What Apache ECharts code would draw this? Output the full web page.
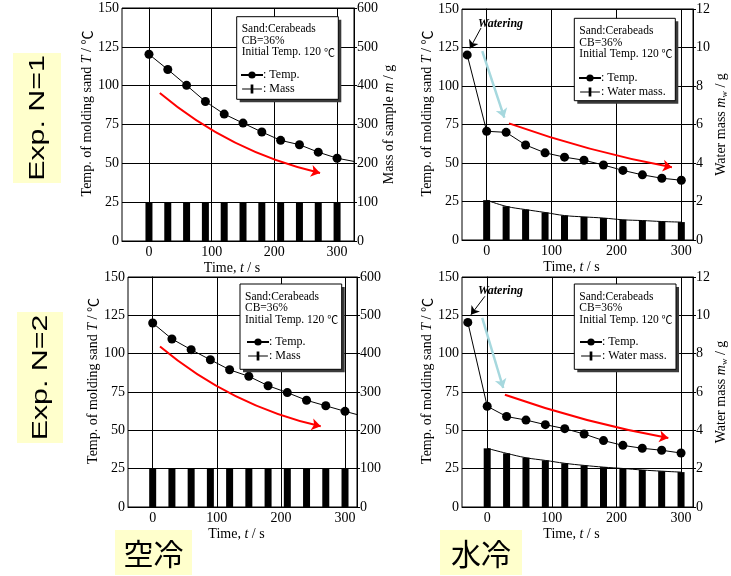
<!DOCTYPE html>
<html><head><meta charset="utf-8">
<script src="https://cdn.jsdelivr.net/npm/echarts@6/dist/echarts.min.js"></script>
<style>html,body{margin:0;padding:0;background:#fff}#c{width:731px;height:576px}</style>
</head><body><div id="c"></div>
<script>
// ---------- data ----------
const xTickValues = [0, 100, 200, 300];
const timeAir = [0, 30, 60, 90, 120, 150, 180, 210, 240, 270, 300, 330];
const tempAirN1 = [120.2, 110.4, 100.2, 89.8, 81.7, 75.9, 70.2, 64.8, 62.0, 57.2, 53.3, 51.0];
const tempAirN2 = [120.0, 109.6, 102.6, 96.0, 89.5, 85.2, 79.1, 74.6, 69.6, 66.0, 62.4, 59.0];
const timeMass = [0, 30, 60, 90, 120, 150, 180, 210, 240, 270, 300];
const massAirN1 = [100, 100, 100, 100, 100, 100, 100, 100, 100, 100, 100];
const massAirN2 = [100, 100, 100, 100, 100, 100, 100, 100, 100, 100, 100];
const timeWater = [-30, 0, 30, 60, 90, 120, 150, 180, 210, 240, 270, 300];
const tempWaterN1 = [120.2, 70.6, 69.9, 61.7, 56.6, 53.8, 51.8, 48.7, 45.2, 42.3, 40.1, 38.8];
const tempWaterN2 = [120.4, 65.7, 59.0, 56.7, 53.7, 51.1, 47.6, 43.3, 40.2, 38.3, 37.0, 35.2];
const waterMassN1 = [2.07, 1.75, 1.58, 1.43, 1.27, 1.20, 1.14, 1.05, 1.01, 0.96, 0.93];
const waterMassN2 = [3.06, 2.80, 2.57, 2.43, 2.28, 2.17, 2.08, 2.01, 1.93, 1.87, 1.82];
// annotation arrows (data coordinates: [time, temperature])
const redArrowAirN1 = [[17.3, 95.3], [272.9, 43.8]];
const redArrowAirN2 = [[11.4, 104.7], [262.1, 52.6]];
const redArrowWaterN1 = [[34.4, 75.7], [285.5, 47.2]];
const redArrowWaterN2 = [[27.4, 73.2], [280.3, 45.0]];
const blueArrowWaterN1 = [[-6.8, 122.7], [27.2, 79.4]];
const blueArrowWaterN2 = [[-7.7, 123.3], [24.8, 77.6]];
const wateringArrowN1 = [[-8.8, 137.6], [-25.8, 124.4]];
const wateringArrowN2 = [[-3.6, 137.4], [-25.2, 125.4]];
const infoText = 'Sand:Cerabeads\nCB=36%\nInitial Temp. 120 {c|\u2103}';

// ---------- layout ----------
const serif = 'Liberation Serif';
const cjk = 'Noto Sans CJK JP';
const panels = [
  { grid: {left: 122, top: 8, width: 232, height: 233}, xr: [-43, 327],
    temp: [timeAir, tempAirN1], tail: true, mass: [timeMass, massAirN1], massName: 'Mass',
    rMax: 600, rInt: 100, rName: 'Mass of sample {i|m} / g', rGap: 27,
    box: {x: 236.7, y: 16.7, w: 101.6, h: 82.6}, leg: {left: 240, top: 69},
    arrows: [{c: redArrowAirN1, color: '#ff0000', w: 2, cv: -0.12}] },
  { grid: {left: 462, top: 9, width: 231, height: 231}, xr: [-38, 318],
    temp: [timeWater, tempWaterN1], tail: false, mass: [timeMass, waterMassN1], massName: 'Water mass.',
    rMax: 12, rInt: 2, rName: 'Water mass {i|m}{s|w} / g', rGap: 14,
    box: {x: 574.3, y: 18.3, w: 101, h: 82.4}, leg: {left: 578, top: 72}, watering: {x: 478, y: 18},
    arrows: [{c: redArrowWaterN1, color: '#ff0000', w: 2, cv: -0.04},
             {c: blueArrowWaterN1, color: '#a6d8de', w: 2.5, cv: 0},
             {c: wateringArrowN1, color: '#000', w: 1, cv: 0}] },
  { grid: {left: 128, top: 277, width: 229, height: 230}, xr: [-38.5, 318.7],
    temp: [timeAir, tempAirN2], tail: true, mass: [timeMass, massAirN2], massName: 'Mass',
    rMax: 600, rInt: 100, rName: '', rGap: 27,
    box: {x: 240, y: 284, w: 101.7, h: 85.3}, leg: {left: 246, top: 336},
    arrows: [{c: redArrowAirN2, color: '#ff0000', w: 2, cv: -0.12}] },
  { grid: {left: 462, top: 277, width: 231, height: 230}, xr: [-39, 318.5],
    temp: [timeWater, tempWaterN2], tail: false, mass: [timeMass, waterMassN2], massName: 'Water mass.',
    rMax: 12, rInt: 2, rName: 'Water mass {i|m}{s|w} / g', rGap: 14,
    box: {x: 574.3, y: 284, w: 101.7, h: 85.3}, leg: {left: 579, top: 336}, watering: {x: 478, y: 285},
    arrows: [{c: redArrowWaterN2, color: '#ff0000', w: 2, cv: -0.04},
             {c: blueArrowWaterN2, color: '#a6d8de', w: 2.5, cv: 0},
             {c: wateringArrowN2, color: '#000', w: 1, cv: 0}] }
];

const lblStyle = {color: '#000', fontFamily: serif, fontSize: 14};
const richNames = {
  i: {fontFamily: serif, fontSize: 14, fontStyle: 'italic', color: '#000'},
  s: {fontFamily: serif, fontSize: 9, color: '#000', padding: [7, 0, 0, 0]},
  c: {fontFamily: cjk, fontSize: 14, color: '#000'}
};
const grids = [], xAxes = [], yAxes = [], series = [], legends = [], graphics = [];

panels.forEach((p, k) => {
  grids.push(Object.assign({show: true, borderColor: '#000', borderWidth: 1, backgroundColor: 'transparent'}, p.grid));
  xAxes.push({
    gridIndex: k, type: 'value', min: p.xr[0], max: p.xr[1],
    axisLine: {show: true, lineStyle: {color: '#000', width: 1}},
    axisTick: {show: false, customValues: xTickValues},
    axisLabel: Object.assign({customValues: xTickValues, margin: 4}, lblStyle),
    splitLine: {show: true, lineStyle: {color: '#000', width: 1}},
    name: 'Time, {i|t} / s', nameLocation: 'middle', nameGap: 20,
    nameTextStyle: Object.assign({rich: richNames, padding: [0, 12, 0, 0]}, lblStyle)
  });
  yAxes.push({
    gridIndex: k, type: 'value', position: 'left', min: 0, max: 150, interval: 25,
    axisLine: {show: true, lineStyle: {color: '#000'}}, axisTick: {show: false},
    axisLabel: Object.assign({margin: 3}, lblStyle),
    splitLine: {show: true, lineStyle: {color: '#000', width: 1}},
    name: 'Temp. of molding sand {i|T} / {c|\u2103}', nameLocation: 'middle', nameRotate: 90, nameGap: 26,
    nameTextStyle: Object.assign({rich: richNames, padding: [0, 0, 0, 22]}, lblStyle)
  });
  yAxes.push({
    gridIndex: k, type: 'value', position: 'right', min: 0, max: p.rMax, interval: p.rInt,
    axisLine: {show: true, lineStyle: {color: '#000'}},
    axisTick: {show: true, length: 3, lineStyle: {color: '#000'}},
    axisLabel: Object.assign({margin: 3}, lblStyle),
    splitLine: {show: false},
    name: p.rName, nameLocation: 'middle', nameRotate: 90, nameGap: p.rGap,
    nameTextStyle: Object.assign({rich: richNames}, lblStyle)
  });
  const tData = p.temp[0].map((t, i) => {
    const v = [t, p.temp[1][i]];
    return (p.tail && i === p.temp[0].length - 1) ? {value: v, symbol: 'none'} : v;
  });
  series.push({
    name: 'Temp.', type: 'line', xAxisIndex: k, yAxisIndex: 2 * k, data: tData,
    symbol: 'circle', symbolSize: 9, itemStyle: {color: '#000'},
    lineStyle: {color: '#000', width: 1}, z: 5, clip: true
  });
  const mData = p.mass[0].map((t, i) => [t, p.mass[1][i]]);
  series.push({
    name: p.massName, type: 'bar', xAxisIndex: k, yAxisIndex: 2 * k + 1, data: mData,
    barWidth: 7, itemStyle: {color: '#000'}, z: 3
  });
  if (p.massName !== 'Mass') {
    series.push({
      name: 'water-curve', type: 'line', xAxisIndex: k, yAxisIndex: 2 * k + 1, data: mData,
      symbol: 'none', smooth: 0.4, lineStyle: {color: '#000', width: 1}, z: 4
    });
  }
  p.arrows.forEach(a => {
    series.push({
      type: 'lines', coordinateSystem: 'cartesian2d', xAxisIndex: k, yAxisIndex: 2 * k,
      symbol: ['none', 'arrow'], symbolSize: a.w > 1.5 ? 9 : 8, silent: true, z: 6,
      lineStyle: {color: a.color, width: a.w, curveness: a.cv, opacity: 1},
      data: [{coords: a.c}]
    });
  });
  legends.push({
    show: true, orient: 'vertical', left: p.leg.left, top: p.leg.top, z: 60,
    itemWidth: 22, itemHeight: 9, itemGap: 2, selectedMode: false, padding: 0,
    data: [{name: 'Temp.'}, {name: p.massName, icon: 'path://M0,4.5H22V5.5H0Z M9.5,0H12.5V10H9.5Z'}],
    formatter: n => ': ' + n,
    textStyle: {fontFamily: serif, fontSize: 12, color: '#000', padding: [0, 0, 0, -5]}
  });
  const b = p.box;
  graphics.push(
    {type: 'rect', silent: true, z: 50, shape: {x: b.x + 3, y: b.y + 3, width: b.w, height: b.h}, style: {fill: '#3a3a3a'}},
    {type: 'rect', silent: true, z: 51, shape: {x: b.x, y: b.y, width: b.w, height: b.h}, style: {fill: '#fff', stroke: '#000', lineWidth: 1}},
    {type: 'text', silent: true, z: 52, x: b.x + 5, y: b.y + 7, style: {text: infoText, fontFamily: serif, fontSize: 11.5, lineHeight: 11.5, fill: '#000',
      rich: {c: {fontFamily: cjk, fontSize: 11, lineHeight: 11.5, fill: '#000'}}}}
  );
  if (p.watering) {
    graphics.push({type: 'text', silent: true, z: 52, x: p.watering.x, y: p.watering.y,
      style: {text: 'Watering', fontFamily: serif, fontSize: 12, fontWeight: 'bold', fontStyle: 'italic', fill: '#000'}});
  }
});

// side / bottom labels
const yellow = '#ffffcc';
[[13, 53, 48, 130, 'Exp. N=1'], [17, 312, 46, 131, 'Exp. N=2']].forEach(([x, y, w, h, t]) => {
  graphics.push({type: 'rect', silent: true, z: 70, shape: {x, y, width: w, height: h}, style: {fill: yellow}});
  graphics.push({type: 'text', silent: true, z: 71, x: x + w / 2 + 1, y: y + h / 2, rotation: Math.PI / 2, scaleX: 1.38,
    style: {text: t, fontFamily: 'Liberation Sans', fontSize: 22, fill: '#000', align: 'center', verticalAlign: 'middle'}});
});
[[115, 530, 77, 45, '空冷'], [440, 530, 82, 45, '水冷']].forEach(([x, y, w, h, t]) => {
  graphics.push({type: 'rect', silent: true, z: 70, shape: {x, y, width: w, height: h}, style: {fill: yellow}});
  graphics.push({type: 'text', silent: true, z: 71, x: x + w / 2, y: y + h / 2 + 1,
    style: {text: t, fontFamily: cjk, fontSize: 30, fill: '#000', align: 'center', verticalAlign: 'middle'}});
});

const chart = echarts.init(document.getElementById('c'), null, {renderer: 'canvas', width: 731, height: 576});
chart.setOption({
  animation: false,
  backgroundColor: '#fff',
  grid: grids, xAxis: xAxes, yAxis: yAxes, series, legend: legends,
  graphic: {elements: graphics}
});
</script></body></html>
